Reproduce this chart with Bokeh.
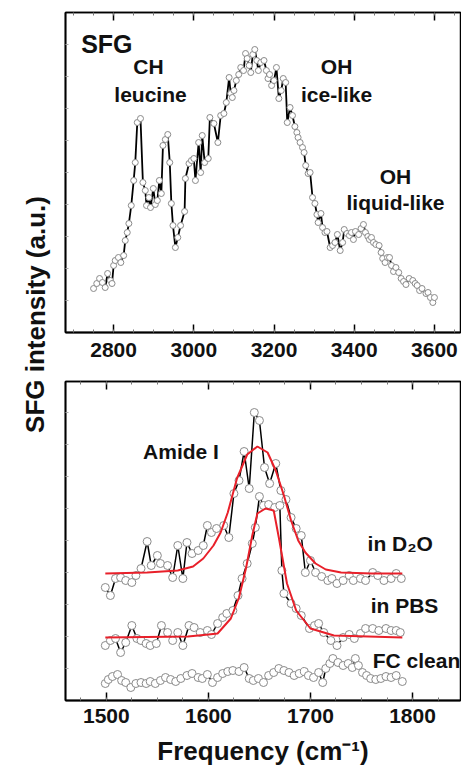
from bokeh.plotting import figure
from bokeh.layouts import row, column
from bokeh.models import LinearAxis, Label, Range1d, FixedTicker
from bokeh.embed import file_html
from bokeh.resources import INLINE

# ---------------- data: top panel (CH / OH region) ----------------
top_x = [2750, 2758, 2765, 2772, 2779, 2785, 2792, 2796, 2800, 2804, 2812, 2818, 2825, 2829,
         2834, 2838, 2844, 2850, 2854, 2859, 2867, 2873, 2879, 2882, 2888, 2892, 2899, 2904,
         2909, 2914, 2919, 2923, 2929, 2935, 2940, 2944, 2948, 2954, 2960, 2967, 2977, 2979,
         2988, 2994, 3000, 3004, 3012, 3017, 3021, 3027, 3036, 3040, 3050, 3060, 3067, 3075,
         3081, 3088, 3092, 3096, 3100, 3106, 3112, 3117, 3124, 3129, 3133, 3138, 3142, 3147,
         3152, 3157, 3161, 3167, 3175, 3181, 3185, 3189, 3194, 3200, 3206, 3212, 3218, 3223,
         3229, 3233, 3240, 3246, 3252, 3257, 3260, 3265, 3271, 3275, 3279, 3285, 3290, 3296,
         3302, 3307, 3310, 3317, 3321, 3327, 3332, 3340, 3346, 3352, 3358, 3365, 3371, 3375,
         3382, 3388, 3393, 3398, 3403, 3411, 3417, 3423, 3428, 3434, 3438, 3443, 3448, 3454,
         3462, 3467, 3471, 3477, 3483, 3488, 3493, 3498, 3504, 3511, 3517, 3523, 3529, 3537,
         3546, 3552, 3557, 3563, 3569, 3579, 3584, 3590, 3596, 3600]
top_y = [44, 49, 54, 50, 45, 59, 52, 49, 67, 72, 75, 70, 77, 92,
         100, 109, 127, 152, 170, 210, 214, 150, 142, 127, 135, 125, 144, 128,
         132, 152, 139, 187, 193, 198, 170, 129, 107, 85, 95, 107, 121, 154,
         169, 172, 174, 152, 190, 160, 197, 170, 174, 215, 209, 190, 217, 219,
         230, 255, 239, 235, 242, 252, 258, 265, 262, 279, 274, 267, 260, 278,
         283, 272, 262, 270, 272, 262, 254, 258, 247, 252, 265, 234, 242, 254,
         250, 210, 225, 217, 206, 200, 195, 190, 185, 180, 167, 159, 160, 135,
         129, 118, 110, 119, 105, 100, 101, 85, 87, 90, 98, 82, 90, 103,
         99, 97, 100, 93, 101, 98, 104, 108, 100, 96, 93, 95, 90, 88,
         87, 80, 74, 70, 75, 75, 67, 61, 65, 60, 54, 51, 48, 54,
         52, 49, 47, 42, 44, 39, 40, 35, 30, 35]

# ---------------- data: bottom panel (amide I region) ----------------
d2o_x = [1499, 1504, 1509, 1514, 1519, 1525, 1529, 1534, 1540, 1544, 1550, 1553, 1560, 1565,
         1570, 1575, 1579, 1584, 1590, 1595, 1599, 1603, 1608, 1615, 1620, 1625, 1630, 1635,
         1640, 1645, 1650, 1655, 1660, 1666, 1671, 1676, 1681, 1686, 1691, 1695, 1700, 1705,
         1711, 1717, 1721, 1726, 1732, 1738, 1742, 1749, 1754, 1761, 1766, 1772, 1779, 1784, 1789]
d2o_y = [113, 105, 122, 123, 120, 118, 125, 132, 159, 135, 145, 137, 135, 123,
         155, 122, 158, 147, 150, 155, 175, 168, 172, 175, 163, 207, 220, 249,
         212, 288, 280, 233, 217, 237, 210, 201, 183, 172, 165, 128, 140, 128,
         124, 120, 122, 117, 120, 125, 120, 122, 120, 128, 125, 120, 122, 127, 122]

pbs_x = [1499, 1504, 1509, 1514, 1519, 1525, 1530, 1534, 1539, 1543, 1549, 1554, 1560, 1565,
         1570, 1575, 1581, 1586, 1592, 1599, 1603, 1609, 1614, 1618, 1624, 1629, 1633, 1638,
         1643, 1646, 1650, 1654, 1659, 1665, 1670, 1672, 1674, 1681, 1686, 1691, 1699, 1704,
         1708, 1713, 1720, 1726, 1732, 1738, 1743, 1749, 1754, 1761, 1767, 1774, 1779, 1784, 1788]
pbs_y = [55, 60, 62, 48, 58, 75, 62, 60, 57, 55, 57, 75, 68, 60,
         68, 55, 75, 73, 68, 70, 66, 77, 83, 87, 90, 105, 122, 137,
         157, 173, 204, 195, 196, 193, 195, 130, 107, 97, 92, 85, 72, 75,
         77, 68, 60, 55, 63, 66, 62, 67, 72, 72, 70, 72, 70, 70, 68]

fc_x = [1499, 1502, 1506, 1511, 1515, 1519, 1524, 1529, 1534, 1539, 1543, 1548, 1553, 1558,
        1563, 1568, 1573, 1579, 1584, 1590, 1594, 1599, 1604, 1609, 1614, 1619, 1624, 1630,
        1635, 1640, 1644, 1649, 1654, 1659, 1664, 1669, 1674, 1679, 1684, 1689, 1694, 1698,
        1703, 1708, 1712, 1715, 1719, 1722, 1727, 1732, 1737, 1741, 1744, 1747, 1751, 1755,
        1759, 1764, 1769, 1774, 1779, 1784, 1790]
fc_y = [17, 21, 24, 26, 20, 18, 13, 17, 18, 17, 19, 17, 20, 23,
        21, 19, 22, 25, 27, 23, 22, 26, 18, 23, 27, 29, 30, 29,
        33, 22, 20, 22, 18, 25, 28, 32, 30, 28, 25, 27, 29, 25,
        23, 28, 18, 32, 37, 42, 38, 35, 37, 33, 42, 35, 28, 25,
        22, 21, 22, 24, 23, 25, 19]

fit_d2o_x = [1499, 1540, 1570, 1585, 1595, 1605, 1612, 1619, 1628, 1638, 1648, 1658, 1666,
             1674, 1681, 1688, 1695, 1705, 1715, 1730, 1760, 1790]
fit_d2o_y = [127, 128, 130, 134, 142, 155, 168, 188, 222, 246, 254, 248, 230,
             205, 180, 160, 148, 137, 131, 128, 127, 127]

fit_pbs_x = [1499, 1580, 1600, 1609, 1622, 1630, 1637, 1643, 1648, 1656, 1664, 1669, 1677,
             1686, 1700, 1723, 1790]
fit_pbs_y = [63, 64, 66, 67, 82, 103, 133, 165, 187, 192, 190, 163, 117,
             90, 72, 65, 63]

top_ticks = [2800, 3000, 3200, 3400, 3600]
bot_ticks = [1500, 1600, 1700, 1800]

FONT = "Liberation Sans"
MARK_LINE = "#8a8a8a"


def hidden_label_axis(ticks, minor, **kw):
    return LinearAxis(ticker=FixedTicker(ticks=ticks, minor_ticks=minor),
                      major_label_text_color=None, major_label_text_font_size="1px",
                      major_label_standoff=0, **kw)


def style(p, ticks, minor, yticks):
    p.outline_line_color = "black"
    p.outline_line_width = 1.5
    p.grid.visible = False
    xa = LinearAxis(ticker=FixedTicker(ticks=ticks, minor_ticks=minor))
    xa.major_tick_in = 8
    xa.major_tick_out = 0
    xa.minor_tick_in = 3
    xa.minor_tick_out = 0
    xa.axis_line_width = 1.8
    xa.major_tick_line_width = 1.5
    xa.minor_tick_line_color = "#777777"
    xa.major_label_text_font = FONT
    xa.major_label_text_font_style = "bold"
    xa.major_label_text_font_size = "21px"
    xa.major_label_text_color = "#111111"
    xa.major_label_standoff = 10
    p.add_layout(xa, "below")
    ya = hidden_label_axis(yticks, [], major_tick_in=3, major_tick_out=0,
                           minor_tick_in=0, minor_tick_out=0, axis_line_width=1.8,
                           major_tick_line_color="#aaaaaa")
    p.add_layout(ya, "left")
    top = hidden_label_axis(ticks, minor, major_tick_in=8, major_tick_out=0,
                            minor_tick_in=3, minor_tick_out=0, axis_line_width=1.5,
                            major_tick_line_width=1.5, minor_tick_line_color="#777777")
    p.add_layout(top, "above")
    return xa


def add_text(p, x, y, t, size="21px", align="center"):
    p.add_layout(Label(x=x, y=y, text=t, text_font=FONT, text_font_style="bold",
                       text_font_size=size, text_align=align, text_baseline="alphabetic",
                       text_color="#111111"))


# ---------------- top figure ----------------
p1 = figure(width=409, height=370, output_backend="svg", toolbar_location=None,
            x_range=Range1d(2680, 3665), y_range=Range1d(0, 320),
            x_axis_location=None, y_axis_location=None,
            min_border_left=13, min_border_right=1, min_border_top=12, min_border_bottom=38)
style(p1, top_ticks, [2700 + 50 * i for i in range(20)], [32 * i for i in range(1, 10)])
p1.line(top_x, top_y, line_color="black", line_width=1.8)
p1.scatter(top_x, top_y, marker="circle", size=6, fill_color="white",
           line_color=MARK_LINE, line_width=1)
add_text(p1, 2719, 289, "SFG", size="25px", align="left")
add_text(p1, 2887, 266, "CH")
add_text(p1, 2892, 238, "leucine")
add_text(p1, 3356, 266, "OH")
add_text(p1, 3356, 238, "ice-like")
add_text(p1, 3503, 156, "OH")
add_text(p1, 3503, 130, "liquid-like")

# ---------------- bottom figure ----------------
p2 = figure(width=409, height=398, output_backend="svg", toolbar_location=None,
            x_range=Range1d(1460, 1847), y_range=Range1d(0, 319),
            x_axis_location=None, y_axis_location=None,
            min_border_left=13, min_border_right=1, min_border_top=11, min_border_bottom=68)
xa2 = style(p2, bot_ticks, [1450 + 25 * i for i in range(18)], [32 * i for i in range(1, 10)])
xa2.major_label_standoff = 8
xa2.axis_label = "Frequency (cm\u207b\u00b9)"
xa2.axis_label_text_font = FONT
xa2.axis_label_text_font_style = "bold"
xa2.axis_label_text_font_size = "26px"
xa2.axis_label_text_color = "#111111"
xa2.axis_label_standoff = 10

for xs, ys in ((d2o_x, d2o_y), (pbs_x, pbs_y), (fc_x, fc_y)):
    p2.line(xs, ys, line_color="black", line_width=1.5)
for xs, ys in ((d2o_x, d2o_y), (pbs_x, pbs_y), (fc_x, fc_y)):
    p2.scatter(xs, ys, marker="circle", size=8, fill_color="white",
               line_color=MARK_LINE, line_width=1)
p2.line(fit_d2o_x, fit_d2o_y, line_color="#e8202a", line_width=2)
p2.line(fit_pbs_x, fit_pbs_y, line_color="#e8202a", line_width=2)
add_text(p2, 1536, 249, "Amide I", align="left")
add_text(p2, 1756, 157, "in D\u2082O", align="left")
add_text(p2, 1759, 95, "in PBS", align="left")
add_text(p2, 1761, 40, "FC clean", align="left")

# ---------------- shared y label ----------------
pl = figure(width=52, height=768, output_backend="svg", toolbar_location=None,
            x_range=Range1d(0, 52), y_range=Range1d(0, 768),
            min_border=0, outline_line_color=None)
pl.axis.visible = False
pl.grid.visible = False
pl.add_layout(Label(x=35, y=768 - 314, text="SFG intensity (a.u.)", angle=1.5707963,
                    text_font=FONT, text_font_style="bold", text_font_size="26px",
                    text_align="center", text_baseline="middle", text_color="#111111"))

layout = row(pl, column(p1, p2))
open("out.html", "w").write(file_html(layout, INLINE))
